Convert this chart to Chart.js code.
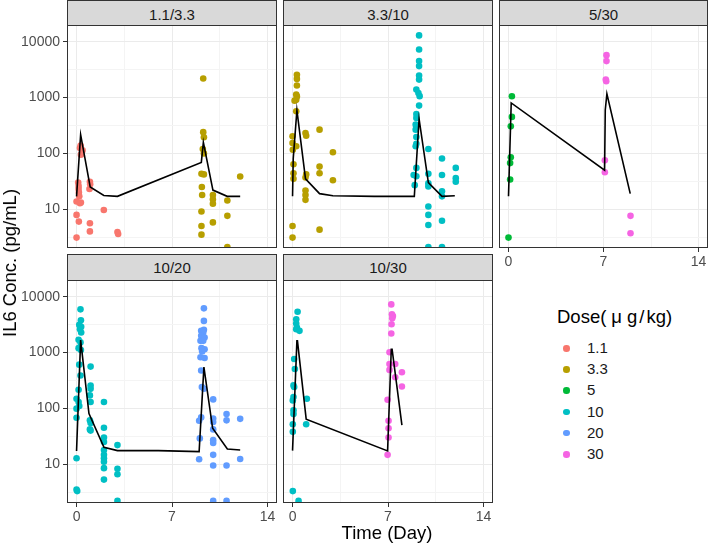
<!DOCTYPE html>
<html lang="en">
<head>
<meta charset="UTF-8">
<title>IL6 Conc. by Dose</title>
<script src="https://cdn.jsdelivr.net/npm/chart.js"></script>
<style>
body {
    margin: 0;
    background: #ffffff;
    font-family: 'Liberation Sans', Arial, sans-serif;
}
#wrap {
    position: relative;
    width: 709px;
    height: 545px;
    overflow: hidden;
    background: #ffffff;
}
canvas {
    position: absolute;
}
.strip {
    position: absolute;
    background: #d9d9d9;
    border: 1px solid #333333;
    box-sizing: border-box;
    text-align: center;
    font-size: 15px;
    color: #1a1a1a;
}
.axis-title {
    position: absolute;
    font-size: 18.5px;
    color: #000000;
    white-space: nowrap;
    transform: translate(-50%, -50%);
}
.legend-title {
    position: absolute;
    left: 557px;
    top: 306px;
    font-size: 18.5px;
    color: #000000;
    white-space: nowrap;
}
.legend-item {
    position: absolute;
    left: 560px;
    height: 20px;
    line-height: 20px;
    font-size: 15px;
    color: #1a1a1a;
}
.legend-item .dot {
    position: absolute;
    left: 3px;
    top: 7px;
    width: 6.5px;
    height: 6.5px;
    border-radius: 50%;
}
.legend-item span.lab {
    position: absolute;
    left: 27px;
}
</style>
</head>
<body>
<div id="wrap">
    <div class="strip" style="left:67px;top:0px;width:210px;height:26px;line-height:27px;">1.1/3.3</div>
    <div class="strip" style="left:283px;top:0px;width:210px;height:26px;line-height:27px;">3.3/10</div>
    <div class="strip" style="left:499px;top:0px;width:209px;height:26px;line-height:27px;">5/30</div>
    <div class="strip" style="left:67px;top:254px;width:210px;height:27px;line-height:26px;">10/20</div>
    <div class="strip" style="left:283px;top:254px;width:210px;height:27px;line-height:26px;">10/30</div>

    <canvas id="c1" width="277" height="223" style="left:0px;top:25px;"></canvas>
    <canvas id="c2" width="210" height="223" style="left:283px;top:25px;"></canvas>
    <canvas id="c3" width="209" height="249" style="left:499px;top:25px;"></canvas>
    <canvas id="c4" width="277" height="249" style="left:0px;top:280px;"></canvas>
    <canvas id="c5" width="210" height="249" style="left:283px;top:280px;"></canvas>

    <div class="axis-title" style="left:9.5px;top:263px;transform:translate(-50%,-50%) rotate(-90deg);">IL6 Conc. (pg/mL)</div>
    <div class="axis-title" style="left:387px;top:533px;">Time (Day)</div>

    <div class="legend-title">Dose(<span style="margin:0 5px 0 5px;">μ</span>g<span style="margin:0 2px;">/</span>kg)</div>
    <div id="legend"></div>
</div>

<script>
// dose groups
const doseLabels = ['1.1', '3.3', '5', '10', '20', '30'];
const doseColors = ['#F8766D', '#B79F00', '#00BA38', '#00BFC4', '#619CFF', '#F564E3'];

// axis ticks
const xTicks = [0, 3.5, 7, 10.5, 14];
const xTickLabels = ['0', '', '7', '', '14'];
const yTicks = [Math.pow(10, 0.5), 10, Math.pow(10, 1.5), 100, Math.pow(10, 2.5), 1000, Math.pow(10, 3.5), 10000];
const yTickLabels = ['', '10', '', '100', '', '1000', '', '10000'];

// panel 1.1/3.3
const p1_d11_day = [0.3, 0.44, 0.32, 0.25, 0.12, 0.15, 0.15, 0.17, 0.2, 0, 0.25, 0.32, 0, 0.17, 0, 0.98, 1.0, 0.95, 0.98, 0.98, 2.0, 3.0, 3.05];
const p1_d11_conc = [138, 113, 95, 125, 30, 26, 23, 20, 17, 13.7, 12.8, 13.2, 7.9, 6.0, 3.1, 31, 28, 23, 5.6, 4.0, 9.7, 3.9, 3.6];
const p1_d33_day = [9.29, 9.29, 9.34, 9.26, 9.34, 9.16, 9.34, 9.19, 9.21, 9.16, 9.16, 9.16, 10.0, 10.0, 10.0, 10.0, 11.06, 11.06, 11.06, 12.0];
const p1_d33_conc = [2200, 240, 195, 120, 100, 43, 42, 25, 18, 9.1, 5.0, 3.5, 18, 15, 12.5, 5.8, 14.3, 7.6, 2.1, 38.5];
const p1_line_day = [0, 0.3, 1.0, 2.0, 3.0, 9.15, 9.3, 10.0, 11.05, 12.0];
const p1_line_conc = [17, 216, 25, 17.6, 17, 69, 158, 22, 17, 17];

// panel 3.3/10
const p2_d33_day = [0.32, 0.32, 0.32, 0.27, 0.32, 0.27, 0.15, 0.27, 0, 0, 0.02, 0.27, 0.07, 0.07, 0.07, 0.95, 1.0, 1.0, 0.95, 0.95, 0.95, 0.95, 1.98, 1.98, 1.98, 2.96, 2.96, 0, 0, 1.98];
const p2_d33_conc = [2570, 2160, 1640, 1130, 1050, 910, 880, 570, 202, 153, 116, 134, 64, 44, 35, 232, 207, 42, 37, 21.6, 18, 14.7, 266, 58, 44, 105, 33, 5.0, 3.1, 4.3];
const p2_d10_day = [9.28, 9.28, 9.28, 9.28, 9.28, 9.28, 9.08, 9.23, 9.32, 9.28, 9.08, 9.08, 9.03, 9.03, 9.08, 9.08, 9.03, 9.08, 8.88, 9.08, 8.96,
    9.96, 9.96, 9.96, 9.96, 9.96, 9.96, 9.96, 9.96, 10.96, 10.96, 10.96, 10.96, 10.96, 10.96, 11.97, 11.97, 11.97];
const p2_d10_conc = [13000, 7270, 4500, 3660, 2480, 2100, 1390, 1210, 1060, 718, 509, 432, 327, 266, 196, 149, 134, 55, 41, 39, 27,
    120, 43, 29, 25.5, 11.2, 7.9, 5.2, 2.1, 81, 41, 21, 17, 6.2, 2.1, 55, 36, 31];
const p2_line_day = [0, 0.05, 0.32, 0.95, 1.98, 2.96, 6.0, 8.93, 9.28, 9.96, 10.96, 11.9];
const p2_line_conc = [17, 80, 592, 35, 19, 17.4, 17, 17, 414, 30, 17, 17.4];

// panel 5/30
const p3_d5_day = [0.25, 0.25, 0.17, 0.17, 0.12, 0.12, 0];
const p3_d5_conc = [1057, 450, 305, 85, 67, 34, 3.1];
const p3_d30_day = [7.22, 7.22, 7.17, 7.2, 7.1, 7.1, 8.99, 8.99];
const p3_d30_conc = [5750, 4500, 2100, 1960, 75, 46, 7.6, 3.7];
const p3_line_day = [0, 0.2, 7.08, 7.13, 7.25, 8.97];
const p3_line_conc = [17, 802, 50, 600, 1165, 19];

// panel 10/20
const p4_d10_day = [0.29, 0.32, 0.2, 0.34, 0.25, 0.34, 0.15, 0.29, 0.15, 0.32, 0.2, 0.29, 0.15, 0, 0.15, 0, 0.2, 0, 0, 0, 0.05,
    1.03, 1.03, 1.03, 0.98, 1.03, 0.98, 1.03, 0.98, 1.03,
    2.01, 2.01, 2.01, 2.01, 2.01, 2.01, 2.01, 2.01, 2.01, 2.01, 3.0, 3.0, 3.0, 3.0];
const p4_d10_conc = [5940, 3780, 3130, 2890, 2620, 2290, 1690, 1520, 1200, 1110, 608, 388, 216, 149, 130, 99, 110, 68, 12.8, 3.5, 3.3,
    561, 257, 224, 171, 130, 61, 55, 42, 40,
    130, 45, 30, 25, 18, 14.7, 12.8, 11.1, 8.5, 5.3, 22, 8.3, 6.6, 2.2];
const p4_d20_day = [9.34, 9.34, 9.34, 9.14, 9.29, 9.14, 9.39, 9.09, 9.29, 9.16, 9.39, 9.21, 9.09, 9.39, 9.14, 9.19, 9.34, 9.14, 8.99, 9.04, 8.99,
    10.02, 10.02, 10.02, 10.02, 10.02, 10.02, 10.02, 10.02, 10.02, 11.0, 11.0, 11.0, 11.0, 12.0, 12.0];
const p4_d20_conc = [6200, 3690, 2550, 2450, 2290, 2000, 1860, 1620, 1620, 1200, 1150, 1050, 822, 800, 477, 241, 225, 69, 60, 29, 12.3,
    145, 66, 57, 42, 27, 24, 14.7, 9.5, 2.2, 79, 61, 9.5, 2.2, 65, 12.4];
const p4_line_day = [0, 0.3, 0.91, 2.01, 3.0, 6.0, 8.99, 9.34, 9.98, 11.06, 12.0];
const p4_line_conc = [17.3, 1670, 81, 20, 17.5, 17.5, 16.8, 550, 44, 18.7, 18];

// panel 10/30
const p5_d10_day = [0.37, 0.27, 0.27, 0.32, 0.27, 0.51, 0.12, 0.17, 0.07, 0.12, 0.07, 0.02, 0.07, 0.07, 0.02, 0.02, 0.02, 0.44, 1.05, 1.0];
const p5_d10_conc = [5400, 3950, 3300, 2800, 2620, 2450, 767, 509, 258, 241, 160, 139, 92, 79, 52, 38, 3.3, 2.2, 149, 52];
const p5_d30_day = [7.24, 7.29, 7.36, 7.31, 7.26, 7.24, 7.11, 7.11, 7.53, 7.11, 7.53, 8.02, 8.02, 6.97, 7.04, 7.04, 7.04, 6.97];
const p5_d30_conc = [7300, 4840, 4530, 4110, 3210, 2190, 1010, 625, 625, 489, 362, 444, 247, 143, 60, 44, 30, 14.7];
const p5_line_day = [0, 0.32, 0.36, 1.0, 6.97, 7.24, 7.3, 8.02];
const p5_line_conc = [17.5, 1620, 1620, 64, 17.3, 1150, 1150, 50];

Chart.defaults.font.family = "'Liberation Sans', Arial, sans-serif";

function toXY(days, concs) {
    return days.map((d, i) => ({ x: d, y: concs[i] }));
}

function pointSet(doseIndex, days, concs) {
    return {
        data: toXY(days, concs),
        showLine: false,
        pointRadius: 3.3,
        pointHoverRadius: 3.3,
        pointBorderWidth: 0,
        pointBackgroundColor: doseColors[doseIndex],
        borderColor: doseColors[doseIndex],
        order: 1
    };
}

function lineSet(days, concs) {
    return {
        data: toXY(days, concs),
        showLine: true,
        pointRadius: 0,
        borderColor: '#000000',
        borderWidth: 1.6,
        tension: 0,
        fill: false,
        order: 0
    };
}

function isMajorY(v) {
    const l = Math.log10(v);
    return Math.abs(l - Math.round(l)) < 1e-6;
}

// draws the panel box on top of everything
const panelBox = {
    id: 'panelBox',
    afterDraw(chart) {
        const a = chart.chartArea;
        const ctx = chart.ctx;
        ctx.save();
        ctx.strokeStyle = '#333333';
        ctx.lineWidth = 1;
        ctx.strokeRect(a.left + 0.5, a.top + 0.5, a.right - a.left - 1, a.bottom - a.top - 1);
        ctx.restore();
    }
};

function makePanel(canvasId, datasets, showY, showX) {
    const ctx = document.getElementById(canvasId).getContext('2d');
    new Chart(ctx, {
        type: 'scatter',
        data: { datasets: datasets },
        plugins: [panelBox],
        options: {
            responsive: false,
            animation: false,
            events: [],
            layout: { padding: 0, autoPadding: false },
            plugins: { legend: { display: false }, tooltip: { enabled: false } },
            scales: {
                x: {
                    type: 'linear',
                    min: -0.7,
                    max: 14.7,
                    afterBuildTicks: (scale) => { scale.ticks = xTicks.map(v => ({ value: v })); },
                    afterFit: (scale) => {
                        scale.height = showX ? 26 : 0;
                        scale.paddingLeft = 0;
                        scale.paddingRight = 0;
                    },
                    border: { display: false },
                    grid: {
                        color: (c) => (c.tick && c.tick.value % 7 === 0) ? '#ebebeb' : '#f4f4f4',
                        lineWidth: 1,
                        drawTicks: showX,
                        tickLength: 4,
                        tickColor: (c) => (c.tick && c.tick.value % 7 === 0) ? '#333333' : 'rgba(0,0,0,0)'
                    },
                    ticks: {
                        display: showX,
                        autoSkip: false,
                        maxRotation: 0,
                        padding: 2,
                        color: '#4d4d4d',
                        font: { size: 14 },
                        callback: (v, i) => xTickLabels[i]
                    }
                },
                y: {
                    type: 'logarithmic',
                    min: Math.pow(10, 0.305),
                    max: Math.pow(10, 4.3),
                    afterBuildTicks: (scale) => { scale.ticks = yTicks.map(v => ({ value: v })); },
                    afterFit: (scale) => {
                        scale.width = showY ? 67 : 0;
                        scale.paddingTop = 0;
                        scale.paddingBottom = 0;
                    },
                    border: { display: false },
                    grid: {
                        color: (c) => (c.tick && isMajorY(c.tick.value)) ? '#ebebeb' : '#f4f4f4',
                        lineWidth: 1,
                        drawTicks: showY,
                        tickLength: 4,
                        tickColor: (c) => (c.tick && isMajorY(c.tick.value)) ? '#333333' : 'rgba(0,0,0,0)'
                    },
                    ticks: {
                        display: showY,
                        autoSkip: false,
                        padding: 3,
                        color: '#4d4d4d',
                        font: { size: 14 },
                        callback: (v, i) => yTickLabels[i]
                    }
                }
            }
        }
    });
}

makePanel('c1', [
    lineSet(p1_line_day, p1_line_conc),
    pointSet(0, p1_d11_day, p1_d11_conc),
    pointSet(1, p1_d33_day, p1_d33_conc)
], true, false);

makePanel('c2', [
    lineSet(p2_line_day, p2_line_conc),
    pointSet(1, p2_d33_day, p2_d33_conc),
    pointSet(3, p2_d10_day, p2_d10_conc)
], false, false);

makePanel('c3', [
    lineSet(p3_line_day, p3_line_conc),
    pointSet(2, p3_d5_day, p3_d5_conc),
    pointSet(5, p3_d30_day, p3_d30_conc)
], false, true);

makePanel('c4', [
    lineSet(p4_line_day, p4_line_conc),
    pointSet(3, p4_d10_day, p4_d10_conc),
    pointSet(4, p4_d20_day, p4_d20_conc)
], true, true);

makePanel('c5', [
    lineSet(p5_line_day, p5_line_conc),
    pointSet(3, p5_d10_day, p5_d10_conc),
    pointSet(5, p5_d30_day, p5_d30_conc)
], false, true);

// legend
const legendEl = document.getElementById('legend');
doseLabels.forEach((lab, i) => {
    const item = document.createElement('div');
    item.className = 'legend-item';
    item.style.top = (338 + i * 21.2) + 'px';
    item.innerHTML = '<span class="dot" style="background:' + doseColors[i] + '"></span><span class="lab">' + lab + '</span>';
    legendEl.appendChild(item);
});
</script>
</body>
</html>
